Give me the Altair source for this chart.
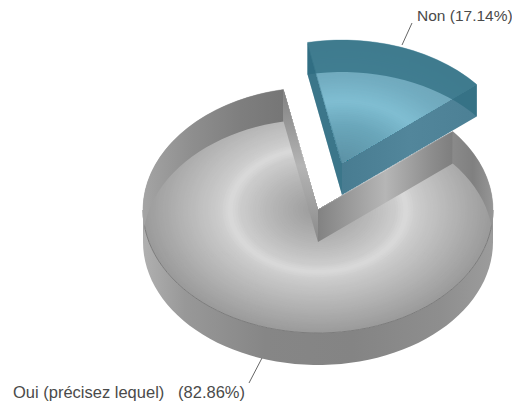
import numpy as np
import pandas as pd
import altair as alt

labels = ["Non (17.14%)", "Oui (précisez lequel)\u00a0\u00a0\u00a0(82.86%)"]
shares = [17.14, 82.86]

RX, RY, H = 175.0, 123.0, 32.0
GC = (318.0, 210.0)
BC = (342.0, 163.0)
mid = 19.5
span = shares[0] * 3.6
b0, b1 = mid - span / 2, mid + span / 2
g0, g1 = b1, b0 + 360

X = alt.Scale(domain=[8, 512], range=[0, 504], nice=False, zero=False)
Y = alt.Scale(domain=[8, 403], range=[0, 395], nice=False, zero=False)
ex = alt.X("x:Q", scale=X, axis=None)
ey = alt.Y("y:Q", scale=Y, axis=None)


def pt(c, th, r=1.0, dy=0.0):
    t = np.radians(th)
    return c[0] + RX * r * np.sin(t), c[1] - RY * r * np.cos(t) + dy


def ramp(t, stops):
    return float(np.interp(t, [s[0] for s in stops], [s[1] for s in stops]))


def gray(v):
    v = int(round(v))
    return f"#{v:02x}{v:02x}{v:02x}"


def rgb(t, stops):
    cs = [int(round(ramp(t, [(s[0], s[1][i]) for s in stops]))) for i in range(3)]
    return f"#{cs[0]:02x}{cs[1]:02x}{cs[2]:02x}"


def frame(points):
    pts = list(points) + [points[0]]
    return pd.DataFrame(dict(k=range(len(pts)), x=[p[0] for p in pts], y=[p[1] for p in pts]))


def grad(stops, vertical=False):
    kw = dict(x1=0, y1=0, x2=0, y2=1) if vertical else dict(x1=0, y1=0, x2=1, y2=0)
    return alt.Gradient(gradient="linear", stops=[alt.GradientStop(offset=o, color=c) for o, c in stops], **kw)


def shape(points, fill, opacity=1.0):
    return alt.Chart(frame(points)).mark_line(
        interpolate="linear", fill=fill, stroke=None, fillOpacity=opacity, strokeWidth=0
    ).encode(x=ex, y=ey, order="k:Q")


def sector(c, a0, a1, r=1.0):
    n = max(6, int(abs(a1 - a0) / 4))
    return [c] + [pt(c, a, r) for a in np.linspace(a0, a1, n)]


def band(c, a0, a1, h):
    aa = np.linspace(a0, a1, max(4, int(abs(a1 - a0) / 3)))
    return [pt(c, a) for a in aa] + [pt(c, a, 1, h) for a in aa[::-1]]


def wall(c, a, h):
    return [pt(c, a, 0.0), pt(c, a), pt(c, a, 1, h), pt(c, a, 0.0, h)]


def rings(c, a0, a1, colour, n=70):
    rows = []
    for j in range(n, 0, -1):
        r = j / n
        for k, (x, y) in enumerate(sector(c, a0, a1, r)):
            rows.append(dict(id=f"r{n - j:03d}", k=k, x=x, y=y, c=colour(r - 0.5 / n)))
    return alt.Chart(pd.DataFrame(rows)).mark_line(interpolate="linear", strokeWidth=0.5).encode(
        x=ex, y=ey, order="k:Q", detail="id:N",
        fill=alt.Fill("c:N", scale=None, legend=None),
        stroke=alt.Stroke("c:N", scale=None, legend=None),
    )


layers = []

# grey slice: front wall
layers.append(shape(band(GC, 90, 270, H), grad(
    [(0, "#b0b0b0"), (0.12, "#989898"), (0.35, "#868686"), (0.6, "#848484"), (0.85, "#8e8e8e"), (1, "#9c9c9c")])))

# grey slice: top face, elliptical shading
gface = [(0, 0x9a), (0.25, 0xb4), (0.44, 0xcc), (0.5, 0xda), (0.56, 0xcc), (1.0, 0x9a)]
layers.append(rings(GC, g0, g1, lambda r: gray(ramp(r, gface))))

# rim line along the front
rim = frame([pt(GC, a) for a in np.linspace(90, 270, 60)]).iloc[:-1]
layers.append(alt.Chart(rim).mark_line(color="#7c7c7c", strokeWidth=1).encode(x=ex, y=ey, order="k:Q"))

# grey slice: back walls and notch walls
layers.append(shape(band(GC, 270, g1, H), grad(
    [(0, "#a4a4a4"), (0.35, "#8e8e8e"), (0.7, "#7e7e7e"), (1, "#767676")])))
layers.append(shape(band(GC, g0, 90, H), grad([(0, "#8a8a8a"), (0.5, "#808080"), (1, "#969696")])))
layers.append(shape(wall(GC, g1, H), grad(
    [(0, "#808080"), (0.5, "#b4b4b4"), (1, "#8a8a8a")], vertical=True)))
layers.append(shape(wall(GC, g0, H), grad(
    [(0, "#828282"), (0.5, "#b6b6b6"), (0.85, "#8c8c8c"), (1, "#7e7e7e")])))

# blue slice: solid walls beneath the face
layers.append(shape(wall(BC, b1, H), grad([(0, "#487c91"), (0.5, "#52869b"), (1, "#4c8095")])))
layers.append(shape(wall(BC, b0, H), "#457e92"))

# blue slice: top face
bstops = [(0, (92, 146, 165)), (0.3, (106, 166, 186)), (0.5, (128, 190, 210)), (0.7, (114, 172, 192)), (1, (108, 160, 178))]
layers.append(rings(BC, b0, b1, lambda r: rgb(r, bstops)))

# blue slice: translucent back band and left wall
layers.append(shape(band(BC, b0, b1, H), "#2e6c80", 0.72))
layers.append(shape(wall(BC, b0, H), "#2e6c80", 0.4))

# leaders and labels
lead = pd.DataFrame(dict(
    id=["a", "a", "b", "b"], k=[0, 1, 0, 1],
    x=[412, 402, 262, 249], y=[23, 45, 358, 383],
))
layers.append(alt.Chart(lead).mark_line(color="#666666", strokeWidth=1).encode(
    x=ex, y=ey, order="k:Q", detail="id:N"
))
txt = pd.DataFrame(dict(t=labels, x=[417, 13], y=[21, 398], s=[15.5, 16.5]))
layers.append(alt.Chart(txt).mark_text(
    align="left", baseline="alphabetic", font="Liberation Sans", color="#4a4a4a"
).encode(x=ex, y=ey, text="t:N", size=alt.Size("s:Q", scale=None, legend=None)))

chart = alt.layer(*layers).properties(
    width=504, height=395, padding=0,
    autosize=alt.AutoSizeParams(type="none"),
).configure_view(stroke=None)

chart.save("out.html", embed_options={"renderer": "svg", "actions": False})
